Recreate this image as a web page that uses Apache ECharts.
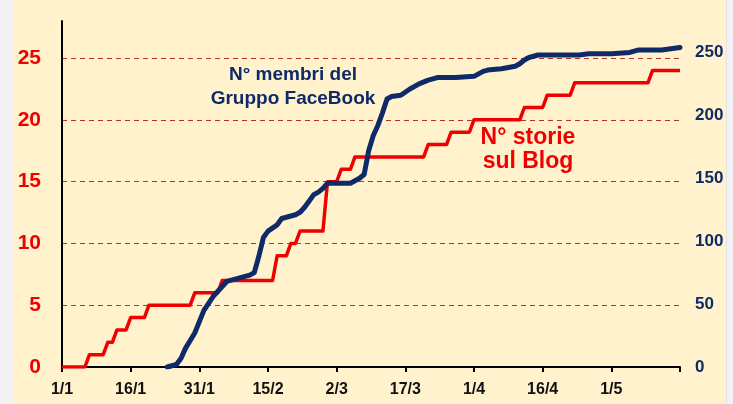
<!DOCTYPE html>
<html>
<head>
<meta charset="utf-8">
<script src="https://cdn.jsdelivr.net/npm/echarts@6/dist/echarts.min.js"></script>
<style>
  html, body { margin: 0; padding: 0; background: #F3F3F6; }
  #bg { position: absolute; left: 14px; top: 0; width: 712px; height: 404px; background: #FFF2CC; border-right: 1px solid #E2E2E6; }
  #chart { position: absolute; left: 0; top: 0; width: 733px; height: 404px; }
</style>
</head>
<body>
<div id="bg"></div>
<div id="chart"></div>
<script>
// x = day index from 1 January (0 = 1/1, 135 = 16/5)
const xTickLabels = ['1/1', '16/1', '31/1', '15/2', '2/3', '17/3', '1/4', '16/4', '1/5', ''];
const leftTicks = [0, 5, 10, 15, 20, 25];
const rightTicks = [0, 50, 100, 150, 200, 250];

// N° storie sul Blog (left axis)
const blogDays   = [0, 5, 6, 9, 10, 11, 12, 14, 15, 18, 19, 28, 29, 34, 35, 46, 47, 49, 50, 51, 52, 57, 58, 60, 61, 63, 64, 79, 80, 84, 85, 89, 90, 100, 101, 105, 106, 111, 112, 128, 129, 135];
const blogValues = [0, 0, 1, 1, 2, 2, 3, 3, 4, 4, 5, 5, 6, 6, 7, 7, 9, 9, 10, 10, 11, 11, 15, 15, 16, 16, 17, 17, 18, 18, 19, 19, 20, 20, 21, 21, 22, 22, 23, 23, 24, 24];

// N° membri del Gruppo FaceBook (right axis)
const fbDays   = [23, 25, 26, 27, 29, 31, 33, 35, 36, 38, 41, 42, 43, 44, 45, 47, 48, 51, 52, 53, 54, 55, 56, 57, 58, 63, 65, 66, 67, 68, 69, 70, 71, 72, 74, 76, 78, 80, 82, 86, 90, 92, 93, 96, 99, 100, 101, 102, 103, 104, 110, 113, 115, 120, 124, 126, 131, 135];
const fbValues = [0, 2, 7, 15, 27, 45, 56, 64, 68, 70, 73, 75, 88, 103, 108, 113, 118, 121, 123, 127, 132, 137, 139, 142, 146, 146, 150, 153, 172, 184, 192, 202, 213, 215, 216, 221, 225, 228, 230, 230, 231, 235, 236, 237, 239, 241, 244, 246, 247, 248, 248, 248, 249, 249, 250, 252, 252, 254];

const FONT = 'Liberation Sans, Arial, sans-serif';
const RED = '#F00000';
const NAVY = '#0F2A68';

const chart = echarts.init(document.getElementById('chart'));
chart.setOption({
  backgroundColor: 'transparent',
  animation: false,
  grid: { left: 62, right: 53, top: 21, bottom: 37, containLabel: false },
  xAxis: {
    type: 'value', min: 0, max: 135, interval: 15,
    axisLine: { show: true, onZero: false, lineStyle: { color: '#000', width: 2 } },
    axisTick: { show: true, length: 5, lineStyle: { color: '#000', width: 2 } },
    splitLine: { show: false },
    axisLabel: {
      margin: 15, color: '#111', fontFamily: FONT, fontWeight: 'bold', fontSize: 16,
      formatter: v => xTickLabels[Math.round(v / 15)] || ''
    }
  },
  yAxis: [
    {
      type: 'value', min: 0, max: 28, interval: 5,
      axisLine: { show: true, lineStyle: { color: '#000', width: 2 } },
      axisTick: { show: false },
      splitLine: { show: true, showMinLine: false, showMaxLine: false, lineStyle: { color: '#B8322E', width: 1, type: [5, 4] } },
      axisLabel: {
        margin: 21, color: RED, fontFamily: FONT, fontWeight: 'bold', fontSize: 21,
        showMaxLabel: false,
        formatter: v => leftTicks.includes(v) ? String(v) : ''
      }
    },
    {
      type: 'value', min: 0, max: 275, interval: 50, position: 'right',
      axisLine: { show: false }, axisTick: { show: false }, splitLine: { show: false },
      axisLabel: {
        margin: 15, color: NAVY, fontFamily: FONT, fontWeight: 'bold', fontSize: 17,
        showMaxLabel: false,
        formatter: v => rightTicks.includes(v) ? String(v) : ''
      }
    }
  ],
  series: [
    {
      name: 'N° storie sul Blog', type: 'line', yAxisIndex: 0, showSymbol: false,
      data: blogDays.map((d, i) => [d, blogValues[i]]),
      lineStyle: { color: RED, width: 3.5, join: 'round' }, z: 3
    },
    {
      name: 'N° membri del Gruppo FaceBook', type: 'line', yAxisIndex: 1, showSymbol: false,
      data: fbDays.map((d, i) => [d, fbValues[i]]),
      lineStyle: { color: NAVY, width: 5, join: 'round', cap: 'round' }, z: 4
    }
  ],
  graphic: [
    {
      type: 'text', z: 10,
      style: {
        x: 293, y: 63, text: 'N° membri del\nGruppo FaceBook', fill: NAVY, font: 'bold 19px ' + FONT,
        align: 'center', verticalAlign: 'top', lineHeight: 24
      }
    },
    {
      type: 'text', z: 10,
      style: {
        x: 528, y: 126, text: 'N° storie\nsul Blog', fill: RED, font: 'bold 23px ' + FONT,
        align: 'center', verticalAlign: 'top', lineHeight: 24
      }
    }
  ]
});
</script>
</body>
</html>
